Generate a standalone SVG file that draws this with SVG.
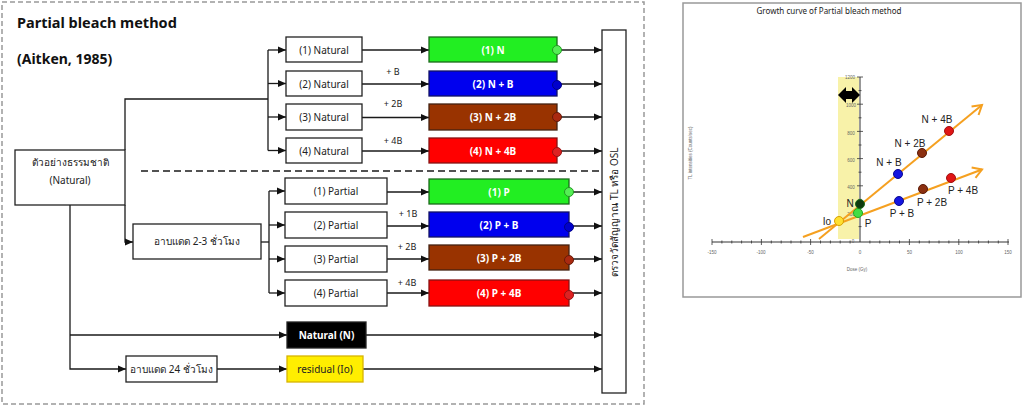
<svg xmlns="http://www.w3.org/2000/svg" width="1024" height="410" viewBox="0 0 1024 410">
<style>
text{font-family:"Noto Sans","Liberation Sans",sans-serif;}
.box{fill:#fff;stroke:#222;stroke-width:1.3;}
.t{font-size:10px;fill:#222;text-anchor:middle;}
.tw{font-size:10px;fill:#fff;font-weight:bold;text-anchor:middle;}
.c{fill:none;stroke:#1a1a1a;stroke-width:1.3;}
.ca{fill:none;stroke:#1a1a1a;stroke-width:1.3;marker-end:url(#ah);}
.lbl{font-size:9px;fill:#222;text-anchor:middle;}
.tick{stroke:#333;stroke-width:0.8;}
.tl{font-size:4.5px;fill:#666;text-anchor:middle;font-family:"Liberation Sans",sans-serif;}
.gl{font-size:10px;fill:#222;text-anchor:middle;font-family:"Liberation Sans",sans-serif;}
.orange{fill:none;stroke:#f5a020;stroke-width:2;marker-end:url(#oa);}
</style>
<defs>
<marker id="ah" markerUnits="userSpaceOnUse" markerWidth="8" markerHeight="8" refX="8" refY="4" orient="auto">
<path d="M0,0.5 L8,4 L0,7.5 z" fill="#111"/>
</marker>
<marker id="oa" markerUnits="userSpaceOnUse" markerWidth="14" markerHeight="14" refX="11" refY="7" orient="auto">
<path d="M2,1.5 L11,7 L2,12.5" fill="none" stroke="#f5a020" stroke-width="2"/>
</marker>
</defs>
<rect x="0" y="0" width="1024" height="410" fill="#fff"/>
<rect x="2" y="2" width="642" height="402" fill="none" stroke="#999" stroke-width="1.5" stroke-dasharray="5 3"/>
<text x="17" y="28" font-size="14.5" font-weight="bold" fill="#111">Partial bleach method</text>
<text x="17" y="64" font-size="14" font-weight="bold" fill="#111">(Aitken, 1985)</text>

<g id="connectors">
<path class="c" d="M125 150 V99 H268"/>
<path class="c" d="M268 50 V150.5"/>
<path class="ca" d="M268 50 H286"/>
<path class="ca" d="M268 83.5 H286"/>
<path class="ca" d="M268 117 H286"/>
<path class="ca" d="M268 150.5 H286"/>
<path class="ca" d="M362 50 H429"/>
<path class="ca" d="M362 84 H429"/>
<path class="ca" d="M362 117.5 H429"/>
<path class="ca" d="M362 151 H429"/>
<path class="ca" d="M557 50 H602"/>
<path class="ca" d="M557 84 H602"/>
<path class="ca" d="M557 117 H602"/>
<path class="ca" d="M557 151 H602"/>
<path class="c" d="M141 171 H600" stroke-dasharray="7 4"/>
<path class="ca" d="M125 205 V242 H133"/>
<path class="c" d="M261 242 H269"/>
<path class="c" d="M269 191 V293"/>
<path class="ca" d="M269 191 H285"/>
<path class="ca" d="M269 225 H285"/>
<path class="ca" d="M269 259 H285"/>
<path class="ca" d="M269 293 H285"/>
<path class="ca" d="M387 192 H429"/>
<path class="ca" d="M387 226 H429"/>
<path class="ca" d="M387 259 H429"/>
<path class="ca" d="M387 293 H429"/>
<path class="ca" d="M569 192 H602"/>
<path class="ca" d="M569 226 H602"/>
<path class="ca" d="M569 259 H602"/>
<path class="ca" d="M569 293 H602"/>
<path class="ca" d="M70 205 V369 H126"/>
<path class="ca" d="M70 335 H287"/>
<path class="ca" d="M217 369 H287"/>
<path class="ca" d="M366 335 H602"/>
<path class="ca" d="M363 369 H602"/>
</g>

<g id="labels">
<text class="lbl" x="393" y="75">+ B</text>
<text class="lbl" x="393" y="107">+ 2B</text>
<text class="lbl" x="393" y="144">+ 4B</text>
<text class="lbl" x="408" y="217">+ 1B</text>
<text class="lbl" x="407" y="250">+ 2B</text>
<text class="lbl" x="407" y="286">+ 4B</text>
</g>

<g id="natural-sample">
<rect class="box" x="15" y="150" width="110" height="55"/>
<text class="t" x="70" y="166">ตัวอย่างธรรมชาติ</text>
<text class="t" x="70" y="184">(Natural)</text>
</g>

<g id="nat1"><rect class="box" x="286" y="37" width="76" height="25"/><text class="t" x="324" y="53.5">(1) Natural</text></g>
<g id="nat2"><rect class="box" x="286" y="71" width="76" height="25"/><text class="t" x="324" y="87.5">(2) Natural</text></g>
<g id="nat3"><rect class="box" x="286" y="104" width="76" height="26"/><text class="t" x="324" y="121">(3) Natural</text></g>
<g id="nat4"><rect class="box" x="286" y="138" width="76" height="25"/><text class="t" x="324" y="154.5">(4) Natural</text></g>

<g id="n1"><rect x="429" y="37" width="128" height="25" fill="#22ee22" stroke="#1a6a1a" stroke-width="1.3"/><text class="tw" x="493" y="53.5">(1) N</text><circle cx="557" cy="50" r="4.5" fill="#55ee55" stroke="#229922"/></g>
<g id="n2"><rect x="429" y="71" width="128" height="25" fill="#0000ee" stroke="#111166" stroke-width="1.3"/><text class="tw" x="493" y="87.5">(2) N + B</text><circle cx="557" cy="85" r="4.5" fill="#0000cc" stroke="#000088"/></g>
<g id="n3"><rect x="429" y="104" width="128" height="26" fill="#993300" stroke="#442211" stroke-width="1.3"/><text class="tw" x="493" y="121">(3) N + 2B</text><circle cx="557" cy="117" r="4.5" fill="#aa2a10" stroke="#661a08"/></g>
<g id="n4"><rect x="429" y="138" width="128" height="25" fill="#ff0000" stroke="#881111" stroke-width="1.3"/><text class="tw" x="493" y="154.5">(4) N + 4B</text><circle cx="557" cy="152" r="4.5" fill="#dd2222" stroke="#991111"/></g>

<g id="sun23"><rect class="box" x="133" y="224" width="128" height="35"/><text class="t" x="197" y="245">อาบแดด 2-3 ชั่วโมง</text></g>

<g id="par1"><rect class="box" x="285" y="178" width="102" height="26"/><text class="t" x="336" y="194.5">(1) Partial</text></g>
<g id="par2"><rect class="box" x="285" y="212" width="102" height="26"/><text class="t" x="336" y="228.5">(2) Partial</text></g>
<g id="par3"><rect class="box" x="285" y="246" width="102" height="26"/><text class="t" x="336" y="262.5">(3) Partial</text></g>
<g id="par4"><rect class="box" x="285" y="280" width="102" height="26"/><text class="t" x="336" y="296.5">(4) Partial</text></g>

<g id="p1"><rect x="429" y="179" width="140" height="25" fill="#22ee22" stroke="#1a6a1a" stroke-width="1.3"/><text class="tw" x="499" y="195.5">(1) P</text><circle cx="569" cy="192" r="4.5" fill="#55ee55" stroke="#229922"/></g>
<g id="p2"><rect x="429" y="212" width="140" height="25" fill="#0000ee" stroke="#111166" stroke-width="1.3"/><text class="tw" x="499" y="228.5">(2) P + B</text><circle cx="569" cy="227" r="4.5" fill="#0000cc" stroke="#000088"/></g>
<g id="p3"><rect x="429" y="245" width="140" height="25" fill="#993300" stroke="#442211" stroke-width="1.3"/><text class="tw" x="499" y="261.5">(3) P + 2B</text><circle cx="569" cy="260" r="4.5" fill="#aa2a10" stroke="#661a08"/></g>
<g id="p4"><rect x="429" y="280" width="140" height="26" fill="#ff0000" stroke="#881111" stroke-width="1.3"/><text class="tw" x="499" y="297">(4) P + 4B</text><circle cx="569" cy="295" r="4.5" fill="#dd2222" stroke="#991111"/></g>

<g id="natN"><rect x="287" y="322" width="79" height="26" fill="#000" stroke="#222" stroke-width="1.3"/><text class="tw" x="326.5" y="338.5" font-weight="normal">Natural (N)</text></g>
<g id="sun24"><rect class="box" x="126" y="356" width="91" height="26"/><text class="t" x="171.5" y="372.5">อาบแดด 24 ชั่วโมง</text></g>
<g id="residual"><rect x="287" y="356" width="76" height="26" fill="#ffee00" stroke="#d8b400" stroke-width="1.3"/><text class="t" x="325" y="372.5">residual (Io)</text></g>

<g id="measure"><rect class="box" x="602" y="30" width="24" height="363"/><text class="t" transform="translate(617.5 212) rotate(-90)" x="0" y="0">ตรวจวัดสัญญาณ TL หรือ OSL</text></g>

<g id="graph">
<rect x="683" y="3" width="338" height="294" fill="#fff" stroke="#999" stroke-width="1.5"/>
<text x="829" y="14" font-size="8" fill="#222" text-anchor="middle" font-family="Liberation Sans,sans-serif">Growth curve of Partial bleach method</text>
<rect x="838" y="77" width="21" height="162" fill="#f7f09a" opacity="0.85"/>
<path d="M712 242 H1009 M860 77 V242" stroke="#333" stroke-width="1"/>
<path class="tick" d="M712 239 V245 M761.4 239 V245 M810.6 239 V245 M909.4 239 V245 M958.8 239 V245 M1008 239 V245
M721.9 240.5 V243.5 M731.8 240.5 V243.5 M741.6 240.5 V243.5 M751.5 240.5 V243.5 M771.3 240.5 V243.5 M781.2 240.5 V243.5 M791 240.5 V243.5 M800.9 240.5 V243.5 M820.5 240.5 V243.5 M830.4 240.5 V243.5 M840.2 240.5 V243.5 M850.1 240.5 V243.5 M869.9 240.5 V243.5 M879.8 240.5 V243.5 M889.6 240.5 V243.5 M899.5 240.5 V243.5 M919.3 240.5 V243.5 M929.2 240.5 V243.5 M939 240.5 V243.5 M948.9 240.5 V243.5 M968.7 240.5 V243.5 M978.6 240.5 V243.5 M988.4 240.5 V243.5 M998.3 240.5 V243.5
M857 77 H863 M857 104.2 H863 M857 131.4 H863 M857 158.6 H863 M857 185.8 H863 M857 213 H863
M858.5 90.6 H861.5 M858.5 117.8 H861.5 M858.5 145 H861.5 M858.5 172.2 H861.5 M858.5 199.4 H861.5 M858.5 226.6 H861.5"/>
<text class="tl" x="712" y="254">-150</text>
<text class="tl" x="761" y="254">-100</text>
<text class="tl" x="810.5" y="254">-50</text>
<text class="tl" x="860" y="254">0</text>
<text class="tl" x="909.5" y="254">50</text>
<text class="tl" x="959" y="254">100</text>
<text class="tl" x="1008" y="254">150</text>
<text class="tl" x="850" y="79">1200</text>
<text class="tl" x="851" y="107">1000</text>
<text class="tl" x="851" y="135">800</text>
<text class="tl" x="851" y="162">600</text>
<text class="tl" x="851" y="189">400</text>
<text class="tl" x="851" y="216">200</text>
<text class="tl" x="853" y="243">0</text>
<text class="tl" x="857" y="271">Dose (Gy)</text>
<text class="tl" transform="translate(691.5 153) rotate(-90)">TL intensities (Counts/sec)</text>
<polygon points="838,95 846,87 846,91 852,91 852,87 860,95 852,103 852,99 846,99 846,103" fill="#000"/>
<path class="orange" d="M819 239 L982 105"/>
<path class="orange" d="M803 237 L982 169.5"/>
<circle cx="839" cy="221" r="4.5" fill="#ffe030" stroke="#d8a000"/>
<circle cx="858" cy="213" r="4.5" fill="#44dd44" stroke="#22aa22"/>
<circle cx="860" cy="204" r="4.5" fill="#0f3a0f" stroke="#1a6a1a"/>
<circle cx="898" cy="174" r="4.5" fill="#1515e0" stroke="#0a0a90"/>
<circle cx="922" cy="153" r="4.5" fill="#8b3010" stroke="#5a1a08"/>
<circle cx="949" cy="131" r="4.5" fill="#e01515" stroke="#a01010"/>
<circle cx="899" cy="201" r="4.5" fill="#1515e0" stroke="#0a0a90"/>
<circle cx="923" cy="189" r="4.5" fill="#8b3010" stroke="#5a1a08"/>
<circle cx="951" cy="178" r="4.5" fill="#e01515" stroke="#a01010"/>
<text class="gl" x="937" y="123">N + 4B</text>
<text class="gl" x="910" y="147">N + 2B</text>
<text class="gl" x="889" y="166">N + B</text>
<text class="gl" x="963" y="194">P + 4B</text>
<text class="gl" x="932" y="206">P + 2B</text>
<text class="gl" x="902" y="217">P + B</text>
<text class="gl" x="868" y="227">P</text>
<text class="gl" x="850" y="207">N</text>
<text class="gl" x="827" y="225">Io</text>
</g>
</svg>
